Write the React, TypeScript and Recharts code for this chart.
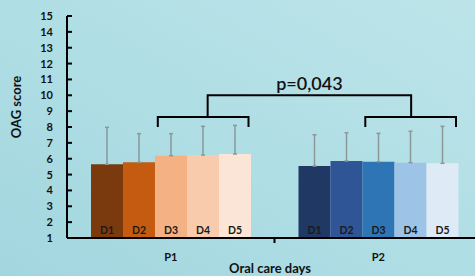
import React from 'react';
import { BarChart, Bar, XAxis, YAxis, ErrorBar, Cell, LabelList, Customized } from 'recharts';

const categories = ['P1', 'P2'];
const dayLabels = ['D1', 'D2', 'D3', 'D4', 'D5'];
const p1Means = [5.65, 5.77, 6.19, 6.23, 6.3];
const p1Sd = [2.33, 1.81, 1.39, 1.81, 1.8];
const p2Means = [5.54, 5.86, 5.81, 5.75, 5.71];
const p2Sd = [1.97, 1.78, 1.79, 1.98, 2.33];
const yTicks = [1, 2, 3, 4, 5, 6, 7, 8, 9, 10, 11, 12, 13, 14, 15];
const pValueText = 'p=0,043';

const p1Colors = ['#7B3A0E', '#C55A11', '#F4B183', '#F8CBAD', '#FBE5D6'];
const p2Colors = ['#1F3864', '#2F5597', '#2E75B6', '#9DC3E6', '#DEEBF7'];

const W = 475;
const H = 276;
const PLOT_LEFT = 67;
const PLOT_TOP = 16;
const PLOT_BOTTOM = 238;
const RIGHT_MARGIN = -7;
const BAND = (W - RIGHT_MARGIN - PLOT_LEFT) / categories.length;
const CAT_GAP = 24;
const BAR_W = (BAND - 2 * CAT_GAP) / dayLabels.length;
const FONT = 'Lato, "Open Sans", sans-serif';

const data = categories.map((c, ci) => {
  const row: any = { name: c };
  dayLabels.forEach((d, i) => {
    row[d] = ci === 0 ? p1Means[i] : p2Means[i];
    row[d + '_sd'] = ci === 0 ? p1Sd[i] : p2Sd[i];
  });
  return row;
});

const yPx = (v: number) =>
  PLOT_TOP + ((yTicks[yTicks.length - 1] - v) / (yTicks[yTicks.length - 1] - yTicks[0])) * (PLOT_BOTTOM - PLOT_TOP);
const barLeft = (ci: number, i: number) => PLOT_LEFT + ci * BAND + CAT_GAP + i * BAR_W;

const YTick = ({ y, payload }: any) => (
  <g>
    <line x1={PLOT_LEFT} x2={PLOT_LEFT + 5} y1={y} y2={y} stroke="#000" strokeWidth={2} />
    <text x={53} y={y} dy={4} textAnchor="end" fontSize={11} fontWeight={700} fill="#111" fontFamily={FONT}>
      {payload.value}
    </text>
  </g>
);

const XTick = ({ x, payload, index }: any) => (
  <g>
    {index === 0 && (
      <line x1={x + BAND / 2} x2={x + BAND / 2} y1={PLOT_BOTTOM} y2={PLOT_BOTTOM + 5} stroke="#000" strokeWidth={2} />
    )}
    <text x={x} y={PLOT_BOTTOM + 23} textAnchor="middle" fontSize={11} fontWeight={700} fill="#111" fontFamily={FONT}>
      {payload.value}
    </text>
  </g>
);

const DayLabel = ({ x, y, width, height, value }: any) => (
  <text x={x + width / 2} y={y + height - 4} textAnchor="middle" fontSize={10.5} fontWeight={700} fill="#1a1a1a" fontFamily={FONT}>
    {value}
  </text>
);

const bracketPath = (ci: number) => {
  const l = barLeft(ci, 2) + 3;
  const r = barLeft(ci, 5) - 2;
  const yh = yPx(8.63);
  const yd = yPx(8.0);
  return `M${l},${yd} L${l},${yh} L${r},${yh} L${r},${yd}`;
};

const Overlay = () => {
  const s1 = (barLeft(0, 2) + barLeft(0, 5)) / 2 + 5;
  const s2 = (barLeft(1, 2) + barLeft(1, 5)) / 2 + 1;
  const yTop = yPx(10);
  const yMid = yPx(8.63);
  return (
    <g>
      <path d={bracketPath(0)} fill="none" stroke="#000" strokeWidth={2} />
      <path d={bracketPath(1)} fill="none" stroke="#000" strokeWidth={2} />
      <path d={`M${s1},${yMid} L${s1},${yTop} L${s2},${yTop} L${s2},${yMid}`} fill="none" stroke="#000" strokeWidth={2} />
      <text x={(s1 + s2) / 2} y={yTop - 5} textAnchor="middle" fontSize={18} fill="#111" fontFamily={FONT} fontWeight={600}>
        {pValueText}
      </text>
      <text x={270} y={273} textAnchor="middle" fontSize={13} fontWeight={700} fill="#111" fontFamily={FONT}>
        Oral care days
      </text>
      <text x={21} y={107} textAnchor="middle" fontSize={13} fontWeight={700} fill="#111" fontFamily={FONT} transform="rotate(-90 21 107)">
        OAG score
      </text>
    </g>
  );
};

export default function App() {
  return (
    <div
      style={{
        position: 'absolute',
        left: 0,
        top: 0,
        width: W,
        height: H,
        overflow: 'hidden',
        background: 'linear-gradient(30deg, #a2d6df 0%, #b0dee5 50%, #bce4e9 100%)',
      }}
    >
      <BarChart
        width={W}
        height={H}
        data={data}
        margin={{ top: PLOT_TOP, right: RIGHT_MARGIN, bottom: H - PLOT_BOTTOM - 20, left: 0 }}
        barCategoryGap={CAT_GAP}
        barGap={0}
      >
        <XAxis
          dataKey="name"
          height={20}
          axisLine={{ stroke: '#000', strokeWidth: 2 }}
          tickLine={false}
          tick={<XTick />}
          interval={0}
        />
        <YAxis
          width={PLOT_LEFT}
          domain={[yTicks[0], yTicks[yTicks.length - 1]]}
          ticks={yTicks}
          interval={0}
          axisLine={{ stroke: '#000', strokeWidth: 2 }}
          tickLine={false}
          tick={<YTick />}
        />
        {dayLabels.map((d, i) => (
          <Bar key={d} dataKey={d} isAnimationActive={false}>
            {categories.map((c, ci) => (
              <Cell key={c} fill={ci === 0 ? p1Colors[i] : p2Colors[i]} />
            ))}
            <ErrorBar
              dataKey={(row: any) => [0, row[d + '_sd']]}
              width={2}
              stroke="#8c9799"
              strokeWidth={1.5}
              direction="y"
            />
            <LabelList dataKey={() => d} content={<DayLabel />} />
          </Bar>
        ))}
        <Customized component={<Overlay />} />
      </BarChart>
    </div>
  );
}
